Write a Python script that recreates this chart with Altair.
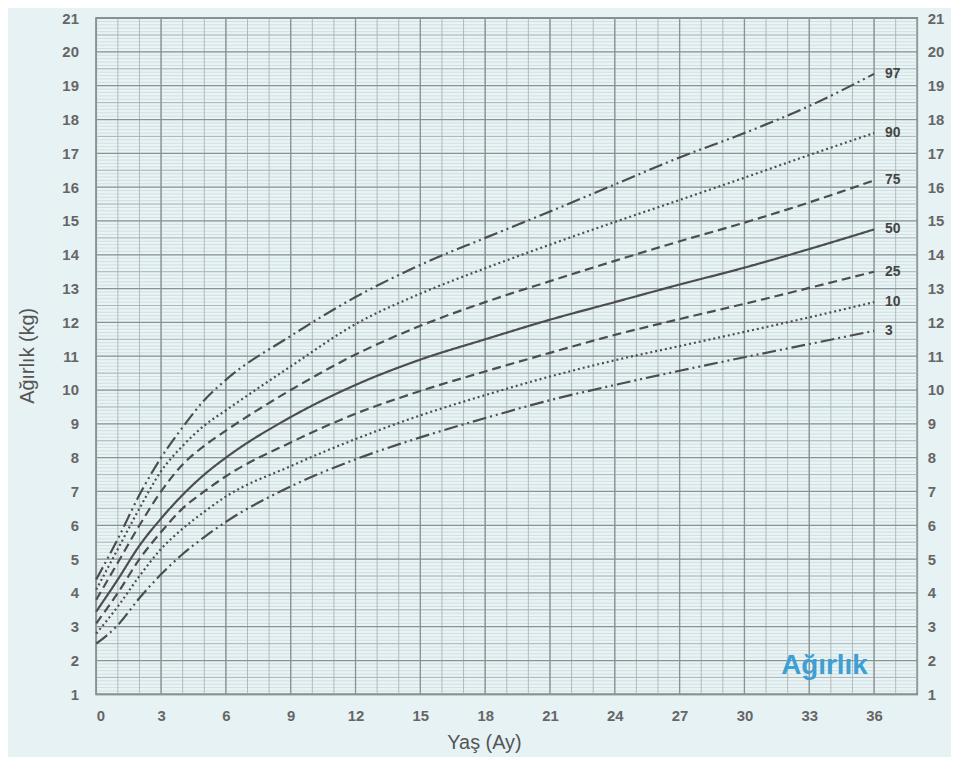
import altair as alt
import pandas as pd

# ---- data ----
months = [0, 1, 2, 3, 4, 5, 6, 9, 12, 15, 18, 21, 24, 27, 30, 33, 36]
percentiles = ["97", "90", "75", "50", "25", "10", "3"]
p97 = [4.4, 5.6, 6.9, 8.0, 8.9, 9.7, 10.3, 11.6, 12.75, 13.7, 14.5, 15.28, 16.08, 16.88, 17.6, 18.4, 19.35]
p90 = [4.1, 5.3, 6.5, 7.6, 8.35, 8.95, 9.4, 10.7, 11.95, 12.85, 13.6, 14.3, 14.97, 15.62, 16.28, 16.95, 17.6]
p75 = [3.8, 4.9, 6.0, 7.0, 7.8, 8.35, 8.8, 10.0, 11.05, 11.9, 12.6, 13.22, 13.82, 14.4, 14.95, 15.55, 16.2]
p50 = [3.45, 4.4, 5.4, 6.2, 6.9, 7.5, 8.0, 9.2, 10.15, 10.9, 11.5, 12.08, 12.6, 13.12, 13.62, 14.17, 14.75]
p25 = [3.1, 4.0, 5.0, 5.8, 6.5, 7.0, 7.45, 8.45, 9.3, 9.97, 10.55, 11.1, 11.63, 12.1, 12.55, 13.02, 13.5]
p10 = [2.8, 3.6, 4.5, 5.3, 5.9, 6.4, 6.85, 7.75, 8.55, 9.25, 9.85, 10.4, 10.88, 11.3, 11.72, 12.15, 12.6]
p3 = [2.5, 3.05, 3.85, 4.55, 5.15, 5.65, 6.1, 7.15, 7.95, 8.6, 9.17, 9.7, 10.15, 10.57, 10.97, 11.36, 11.75]

x_ticks = list(range(0, 37, 3))
y_ticks = list(range(1, 22))
note_x = [33.7]
note_y = [1.85]
note_text = ["Ağırlık"]

series = [p97, p90, p75, p50, p25, p10, p3]
rows = []
for p, vals in zip(percentiles, series):
    for m, v in zip(months, vals):
        rows.append({"month": m, "kg": v, "pct": p})
df = pd.DataFrame(rows)
ends = pd.DataFrame({"month": [months[-1]] * len(percentiles),
                     "kg": [s[-1] for s in series],
                     "pct": percentiles})

dash_dot = [14, 4, 2, 4, 2, 4]
dashes = [dash_dot, [2, 3], [9, 5], [1, 0], [9, 5], [2, 3], dash_dot]

XMAX = 38
xs = alt.Scale(domain=[0, XMAX], nice=False, zero=False)
ys = alt.Scale(domain=[1, 21], nice=False, zero=False)
x_axis = alt.Axis(values=x_ticks, title="Yaş (Ay)", grid=False, ticks=False, domain=False,
                  labelPadding=14, titleX=391, titleY=49, titleBaseline="middle")

# grid
vminor = pd.DataFrame({"month": list(range(0, XMAX + 1))})
vmajor = pd.DataFrame({"month": list(range(0, XMAX + 1, 3))})
hminor = pd.DataFrame({"gy": [round(1 + 0.1 * i, 1) for i in range(0, 201)]})
hmid = pd.DataFrame({"gy": [1.5 + i for i in range(20)]})
hmajor = pd.DataFrame({"gy": list(range(1, 22))})

def vrule(d, color, w):
    return alt.Chart(d).mark_rule(color=color, strokeWidth=w).encode(
        x=alt.X("month:Q", scale=xs, axis=x_axis))

def hrule(d, color, w):
    return alt.Chart(d).mark_rule(color=color, strokeWidth=w).encode(
        y=alt.Y("gy:Q", scale=ys, axis=None))

grid = alt.layer(
    hrule(hminor, "#c3d0d2", 0.6),
    hrule(hmid, "#a7b3b5", 0.9),
    vrule(vminor, "#aab4b6", 0.9),
    hrule(hmajor, "#8a9294", 1.3),
    vrule(vmajor, "#8a9294", 1.3),
)

lines = alt.Chart(df).mark_line(interpolate="monotone", strokeWidth=2.2, color="#4d4d4d").encode(
    x=alt.X("month:Q", scale=xs, axis=x_axis),
    y=alt.Y("kg:Q", scale=ys,
            axis=alt.Axis(values=y_ticks, title="Ağırlık (kg)", grid=False, ticks=False, domain=False,
                          labelPadding=18, orient="left", titleX=-69, titleY=340,
                          titleBaseline="middle")),
    strokeDash=alt.StrokeDash("pct:N", scale=alt.Scale(domain=percentiles, range=dashes), legend=None),
    detail="pct:N",
)

labels = alt.Chart(ends).mark_text(align="left", baseline="middle", dx=11, fontSize=14,
                                   fontWeight="bold", color="#444444", font="Liberation Sans").encode(
    x=alt.X("month:Q", scale=xs, axis=x_axis),
    y=alt.Y("kg:Q", scale=ys,
            axis=alt.Axis(values=y_ticks, title=None, grid=False, ticks=False, domain=False,
                          orient="right", labelPadding=10)),
    text="pct:N",
)

note_df = pd.DataFrame({"month": note_x, "y": note_y, "t": note_text})
note = alt.Chart(note_df).mark_text(fontSize=28, fontWeight="bold", color="#3d9fd3",
                                    font="Liberation Sans", baseline="middle").encode(
    x=alt.X("month:Q", scale=xs, axis=x_axis),
    y=alt.Y("y:Q", scale=ys, axis=None),
    text="t:N",
)

chart = alt.layer(grid, lines, labels, note).resolve_axis(y="independent").properties(
    width=828, height=682,
    autosize=alt.AutoSizeParams(type="none"),
    padding={"left": 89, "top": 7, "right": 34, "bottom": 60},
    background="#e7f2f4",
).configure_view(
    stroke="#555555", strokeWidth=1.6, fill="#e9f4f6"
).configure_axis(
    labelFont="Liberation Sans", labelFontSize=15, labelFontWeight="bold", labelColor="#666666",
    titleFont="Liberation Sans", titleFontSize=20, titleFontWeight="normal", titleColor="#555555",
)

chart.save("out.html", embed_options={"renderer": "svg", "actions": False})
